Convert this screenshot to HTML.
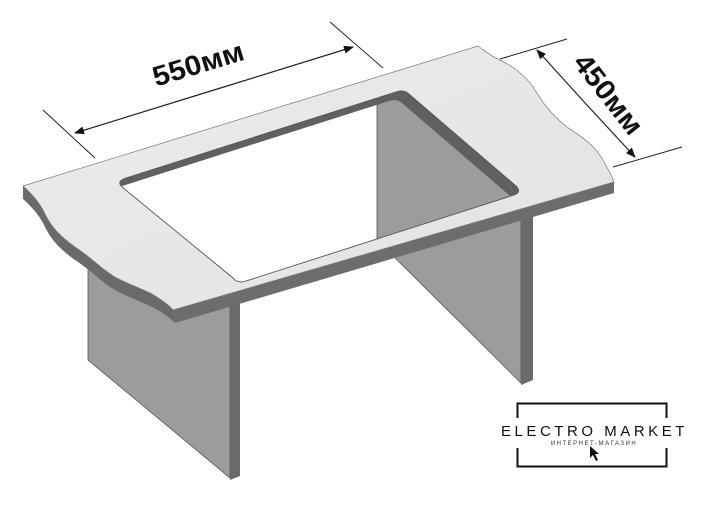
<!DOCTYPE html>
<html><head><meta charset="utf-8"><style>
html,body{margin:0;padding:0;background:#fff;}
svg{display:block;}
</style></head><body>
<svg width="702" height="508" viewBox="0 0 702 508" xmlns="http://www.w3.org/2000/svg">
<defs>
<linearGradient id="top" x1="0" y1="0" x2="1" y2="1">
<stop offset="0" stop-color="#ececec"/><stop offset="1" stop-color="#e2e2e2"/>
</linearGradient>
<clipPath id="hole"><path d="M126,178 L396,92 Q404,89 410,95 L516,186 Q522,192 514,195 L246,281 Q238,284 233,278 L122,187 Q116,181 126,178 Z"/></clipPath>
<marker id="ar" markerWidth="10" markerHeight="8" refX="9" refY="4" orient="auto" markerUnits="userSpaceOnUse"><path d="M0,0 L10,4 L0,8 Z" fill="#111"/></marker>
</defs>

<!-- left leg -->
<polygon points="88,263 230,300 230,478 88,360" fill="#9c9c9c" stroke="#555" stroke-width="0.8"/>
<polygon points="230,306 240,302 240,476 230,480" fill="#6a6a6a"/>
<!-- right leg -->
<polygon points="377,90 521,130 521,383 377,240" fill="#9c9c9c" stroke="#555" stroke-width="0.8"/>
<polygon points="521,220 533,215 533,380 521,385" fill="#6a6a6a"/>

<!-- left wavy thickness -->
<path d="M23,186 C32,194 40,203 45,214 C52,228 60,236 75,247 C92,258 100,268 115,277 C128,284 140,288 152,294 C160,299 168,304 173,310 L175,323 C168,316 160,311 152,307 C140,301 128,297 115,290 C100,281 92,271 75,260 C60,249 52,241 45,227 C40,216 32,207 23,199 Z" fill="#6a6a6a"/>
<!-- front thickness -->
<polygon points="173,310 614,182 614,193 175,323" fill="#6d6d6d"/>
<!-- top surface -->
<path d="M23,186 L478,46 C484,50 490,56 500,60 C512,66 524,74 533,87 C540,98 548,112 567,127 C580,136 594,144 603,160 C608,169 612,176 614,182 L173,310 C168,304 160,299 152,294 C140,288 128,284 115,277 C100,268 92,258 75,247 C60,236 52,228 45,214 C40,203 32,194 23,186 Z" fill="url(#top)" stroke="#777" stroke-width="0.7"/>

<!-- cutout -->
<g clip-path="url(#hole)">
<rect x="100" y="80" width="440" height="220" fill="#fff"/>
<polygon points="377,90 521,130 521,383 377,240" fill="#9c9c9c" stroke="#555" stroke-width="0.8"/>
<path fill-rule="evenodd" fill="#606060" d="M126,178 L396,92 Q404,89 410,95 L516,186 Q522,192 514,195 L246,281 Q238,284 233,278 L122,187 Q116,181 126,178 Z M119,187 L389,101 Q397,98 403,104 L509,195 Q515,201 507,204 L239,290 Q231,293 226,287 L115,196 Q109,190 119,187 Z"/>
</g>
<path d="M126,178 L396,92 Q404,89 410,95 L516,186 Q522,192 514,195 L246,281 Q238,284 233,278 L122,187 Q116,181 126,178 Z" fill="none" stroke="#555" stroke-width="0.9"/>

<!-- 550 dimension -->
<line x1="43" y1="110" x2="95" y2="158" stroke="#222" stroke-width="1"/>
<line x1="330" y1="22" x2="383" y2="68" stroke="#222" stroke-width="1"/>
<line x1="214" y1="90" x2="75" y2="133" stroke="#222" stroke-width="1.2" marker-end="url(#ar)"/>
<line x1="214" y1="90" x2="353" y2="47" stroke="#222" stroke-width="1.2" marker-end="url(#ar)"/>
<text x="0" y="0" transform="translate(201,73) rotate(-17)" text-anchor="middle" font-family="Liberation Sans, sans-serif" font-weight="bold" font-size="28" fill="#111" textLength="94" lengthAdjust="spacingAndGlyphs">550мм</text>

<!-- 450 dimension -->
<line x1="500" y1="59" x2="567" y2="39" stroke="#222" stroke-width="1"/>
<line x1="613" y1="167" x2="682" y2="147" stroke="#222" stroke-width="1"/>
<line x1="586" y1="104" x2="537" y2="50" stroke="#222" stroke-width="1.2" marker-end="url(#ar)"/>
<line x1="586" y1="104" x2="635" y2="157" stroke="#222" stroke-width="1.2" marker-end="url(#ar)"/>
<text x="0" y="0" transform="translate(601,100) rotate(52)" text-anchor="middle" font-family="Liberation Sans, sans-serif" font-weight="bold" font-size="28" fill="#111" textLength="94" lengthAdjust="spacingAndGlyphs">450мм</text>

<!-- logo -->
<rect x="517.5" y="403.5" width="149" height="63" fill="none" stroke="#111" stroke-width="2"/>
<rect x="500" y="418" width="190" height="30" fill="#fff"/>
<text x="594" y="436" text-anchor="middle" font-family="Liberation Sans, sans-serif" font-size="15" fill="#111" letter-spacing="2.6" textLength="186" lengthAdjust="spacing">ELECTRO MARKET</text>
<text x="594" y="445" text-anchor="middle" font-family="Liberation Sans, sans-serif" font-size="6" fill="#333" letter-spacing="1.5">ИНТЕРНЕТ-МАГАЗИН</text>
<path d="M590,446 L590,458 L593,455 L596,461 L598,460 L595,454 L599,454 Z" fill="#111"/>
</svg>
</body></html>
